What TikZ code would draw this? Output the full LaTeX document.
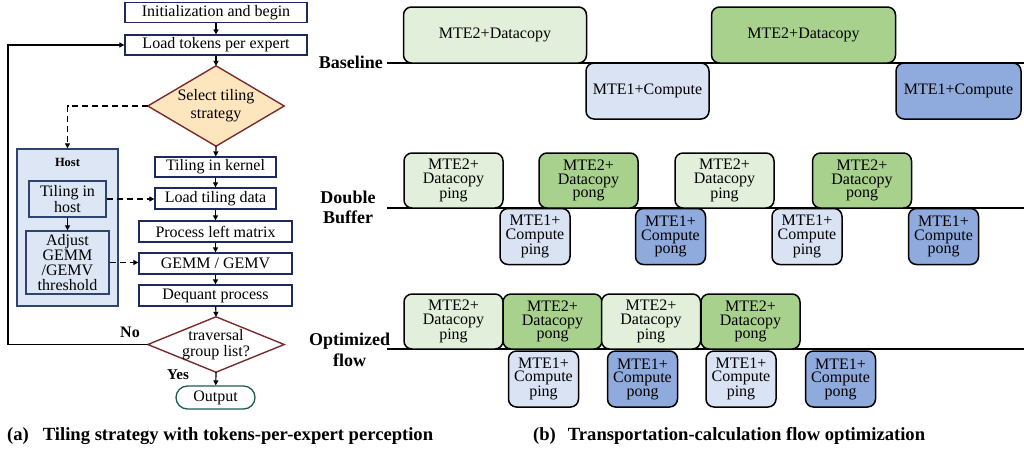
\documentclass[tikz,border=0pt]{standalone}
\usepackage{fontspec}
\setmainfont{Liberation Serif}
\usetikzlibrary{arrows.meta,backgrounds}

\definecolor{pingG}{RGB}{226,239,218}
\definecolor{pongG}{RGB}{169,209,142}
\definecolor{pingB}{RGB}{218,227,243}
\definecolor{pongB}{RGB}{143,170,220}
\definecolor{navy}{RGB}{31,42,92}
\definecolor{hostedge}{RGB}{47,68,108}
\definecolor{hostfill}{RGB}{220,230,244}
\definecolor{decfill}{RGB}{253,229,190}
\definecolor{decedge}{RGB}{121,44,44}
\definecolor{endedge}{RGB}{30,90,80}

\tikzset{
  fbox/.style={draw=navy, line width=1.3pt, fill=white, inner sep=0pt,
    align=center, font=\fontsize{16}{18}\selectfont},
  dectext/.style={rectangle, inner sep=0pt, align=center},
  decision/.style={draw=decedge, line width=1.4pt, line join=miter},
  hostbox/.style={draw=hostedge, line width=1.4pt, fill=hostfill, inner sep=0pt},
  flow/.style={line width=1.2pt, -{Triangle[length=5pt,width=5pt]}},
  dflow/.style={flow, line width=1.5pt, dash pattern=on 6pt off 4pt},
  tl/.style={draw=black, line width=1.5pt, rounded corners=8pt, inner sep=0pt,
    align=center, font=\fontsize{16}{13.5}\selectfont},
  bigcp/.style={tl, minimum height=56pt},
  dcp/.style={tl, minimum width=99pt, minimum height=55pt},
  cmp/.style={tl, minimum width=70pt, minimum height=56pt},
  tline/.style={line width=1.3pt},
  rowlabel/.style={font=\bfseries\fontsize{18}{20}\selectfont, inner sep=0pt, align=center},
  caption/.style={font=\bfseries\fontsize{18.6}{20}\selectfont, inner sep=0pt, anchor=base west},
}

\begin{document}
\begin{tikzpicture}[x=1pt,y=-1pt]
\useasboundingbox (0,0) rectangle (1024,448);

% ---------------- left: tiling flow ----------------
\node[fbox, minimum width=182pt, minimum height=20pt] (init) at (216,12.5) {Initialization and begin};
\node[fbox, minimum width=182pt, minimum height=20pt] (load) at (216,45) {Load tokens per expert};

\node[dectext, minimum width=136pt, minimum height=80pt, font=\fontsize{16}{18}\selectfont] (sel) at (216,106) {Select tiling\\strategy};
\begin{scope}[on background layer]
  \draw[decision, fill=decfill] (sel.north) -- (sel.east) -- (sel.south) -- (sel.west) -- cycle;
\end{scope}

% host side
\node[hostbox, minimum width=101pt, minimum height=157pt] (host) at (67.5,227.5) {};
\node[font=\bfseries\fontsize{12.5}{14}\selectfont, inner sep=0pt] (hostlbl) at (67.5,162) {Host};
\node[fbox, draw=hostedge, fill=hostfill, minimum width=77pt, minimum height=36pt, font=\fontsize{16}{13}\selectfont] (tih) at (67.5,199) {Tiling in\\host};
\node[fbox, draw=hostedge, fill=hostfill, minimum width=83pt, minimum height=63pt, font=\fontsize{16}{15}\selectfont] (adj) at (67.5,262.5) {Adjust\\GEMM\\/GEMV\\threshold};

% kernel side
\node[fbox, minimum width=121pt, minimum height=20pt] (tk) at (215.5,167) {Tiling in kernel};
\node[fbox, minimum width=121pt, minimum height=21pt] (ltd) at (215.5,198.5) {Load tiling data};
\node[fbox, minimum width=153pt, minimum height=21pt] (plm) at (215.5,231.5) {Process left matrix};
\node[fbox, minimum width=153pt, minimum height=21pt] (gemm) at (215.5,263.5) {GEMM / GEMV};
\node[fbox, minimum width=153pt, minimum height=21pt] (deq) at (215.5,295.5) {Dequant process};

\node[dectext, minimum width=136pt, minimum height=55pt, font=\fontsize{16}{16}\selectfont] (trav) at (216,344.5) {traversal\\group list?};
\begin{scope}[on background layer]
  \draw[decision, fill=white] (trav.north) -- (trav.east) -- (trav.south) -- (trav.west) -- cycle;
\end{scope}

\node[draw=endedge, line width=1.3pt, rounded corners=11.5pt, minimum width=79pt, minimum height=23pt,
      inner sep=0pt, font=\fontsize{16}{18}\selectfont] (out) at (215.5,397.5) {Output};

\node[font=\bfseries\fontsize{16}{18}\selectfont, inner sep=0pt] (nolbl) at (130,332) {No};
\node[font=\bfseries\fontsize{15}{18}\selectfont, inner sep=0pt] (yeslbl) at (178,375) {Yes};

% main chain
\draw[flow] (init) -- (load);
\draw[flow] (load) -- (sel.north);
\draw[flow] (sel.south) -- (tk);
\draw[flow] (tk) -- (ltd);
\draw[flow] (ltd) -- (plm);
\draw[flow] (plm) -- (gemm);
\draw[flow] (gemm) -- (deq);
\draw[flow] (deq) -- (trav.north);
\draw[flow] (trav.south) -- (out);

% host branch
\draw[dflow] (sel.west) -| (host.north);
\draw[flow] (tih) -- (adj);
\draw[dflow] (tih.east) -- (tih.east -| ltd.west);
\draw[dflow] (adj.east) -- (adj.east -| gemm.west);

% loop back
\coordinate (loopx) at (8,0);
\draw[flow] (trav.west) -- (trav.west -| loopx) |- (load.west);

% ---------------- right: timelines ----------------
% Baseline
\coordinate (b0) at (387,63);
\coordinate (b1) at (1024,63);
\draw[tline] (b0) -- (b1);
\node[rowlabel, anchor=base east] (lb) at (383,68) {Baseline};
\node[bigcp, fill=pingG, minimum width=183pt] (bd1) at (495,35) {MTE2+Datacopy};
\node[bigcp, fill=pingB, minimum width=123pt] (bc1) at (647.5,91) {MTE1+Compute};
\node[bigcp, fill=pongG, minimum width=184pt] (bd2) at (803.5,35) {MTE2+Datacopy};
\node[bigcp, fill=pongB, minimum width=125pt] (bc2) at (958.5,91) {MTE1+Compute};

% Double buffer
\coordinate (d0) at (387,208);
\coordinate (d1) at (1024,208);
\draw[tline] (d0) -- (d1);
\node[rowlabel, font=\bfseries\fontsize{18}{20}\selectfont] (ldb) at (348,207) {Double\\Buffer};
\node[dcp, fill=pingG] (dd1) at (453.5,180.5) {MTE2+\\Datacopy\\ping};
\node[dcp, fill=pongG] (dd2) at (588.5,180.5) {MTE2+\\Datacopy\\pong};
\node[dcp, fill=pingG] (dd3) at (724.5,180.5) {MTE2+\\Datacopy\\ping};
\node[dcp, fill=pongG] (dd4) at (862,180.5) {MTE2+\\Datacopy\\pong};
\node[cmp, fill=pingB] (dc1) at (535,236.5) {MTE1+\\Compute\\ping};
\node[cmp, fill=pongB] (dc2) at (670.5,236.5) {MTE1+\\Compute\\pong};
\node[cmp, fill=pingB] (dc3) at (807,236.5) {MTE1+\\Compute\\ping};
\node[cmp, fill=pongB] (dc4) at (943.5,236.5) {MTE1+\\Compute\\pong};

% Optimized flow
\coordinate (o0) at (387,349);
\coordinate (o1) at (1024,349);
\draw[tline] (o0) -- (o1);
\node[rowlabel, font=\bfseries\fontsize{18}{21}\selectfont] (lof) at (349.5,349.5) {Optimized\\flow};
\node[dcp, fill=pingG] (od1) at (453.5,321.5) {MTE2+\\Datacopy\\ping};
\node[dcp, fill=pongG] (od2) at (552.5,321.5) {MTE2+\\Datacopy\\pong};
\node[dcp, fill=pingG] (od3) at (651,321.5) {MTE2+\\Datacopy\\ping};
\node[dcp, fill=pongG] (od4) at (750.5,321.5) {MTE2+\\Datacopy\\pong};
\node[cmp, fill=pingB] (oc1) at (543.5,379) {MTE1+\\Compute\\ping};
\node[cmp, fill=pongB] (oc2) at (642.5,379) {MTE1+\\Compute\\pong};
\node[cmp, fill=pingB] (oc3) at (741,379) {MTE1+\\Compute\\ping};
\node[cmp, fill=pongB] (oc4) at (840.5,379) {MTE1+\\Compute\\pong};

% ---------------- captions ----------------
\node[caption] (capa) at (7,440) {(a)\hspace{14pt}Tiling strategy with tokens-per-expert perception};
\node[caption] (capb) at (533,440) {(b)\hspace{12pt}Transportation-calculation flow optimization};
\end{tikzpicture}
\end{document}
